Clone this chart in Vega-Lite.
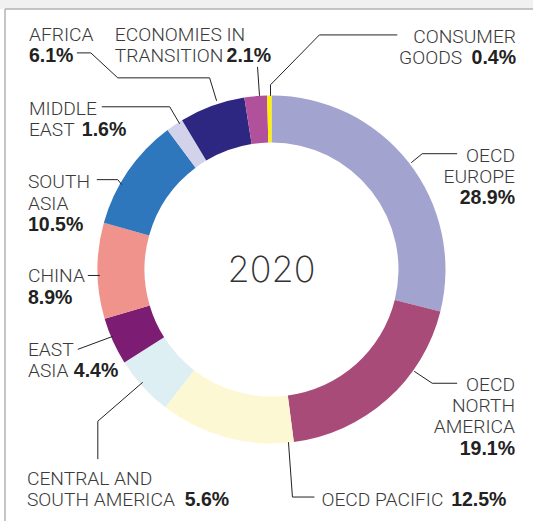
{
  "$schema": "https://vega.github.io/schema/vega-lite/v6.json",
  "width": 534,
  "height": 522,
  "autosize": {"type": "fit", "contains": "padding"},
  "padding": 0,
  "background": "white",
  "view": {"stroke": null},
  "datasets": {
    "segments": [
      {"region": "OECD Europe", "share": 28.9, "idx": 1},
      {"region": "OECD North America", "share": 19.1, "idx": 2},
      {"region": "OECD Pacific", "share": 12.5, "idx": 3},
      {"region": "Central and South America", "share": 5.6, "idx": 4},
      {"region": "East Asia", "share": 4.4, "idx": 5},
      {"region": "China", "share": 8.9, "idx": 6},
      {"region": "South Asia", "share": 10.5, "idx": 7},
      {"region": "Middle East", "share": 1.6, "idx": 8},
      {"region": "Africa", "share": 6.1, "idx": 9},
      {"region": "Economies in Transition", "share": 2.1, "idx": 10},
      {"region": "Consumer Goods", "share": 0.4, "idx": 11}
    ],
    "leaders": [
      {"id": "Africa", "ord": 1, "x": -195, "y": -217},
      {"id": "Africa", "ord": 2, "x": -181, "y": -217},
      {"id": "Africa", "ord": 3, "x": -154, "y": -192},
      {"id": "Africa", "ord": 4, "x": -62, "y": -192},
      {"id": "Africa", "ord": 5, "x": -55, "y": -169},
      {"id": "Econ", "ord": 1, "x": -14, "y": -203},
      {"id": "Econ", "ord": 2, "x": -12, "y": -174},
      {"id": "Consumer", "ord": 1, "x": 126, "y": -235},
      {"id": "Consumer", "ord": 2, "x": 48, "y": -235},
      {"id": "Consumer", "ord": 3, "x": -1, "y": -185},
      {"id": "Consumer", "ord": 4, "x": -1, "y": -174},
      {"id": "Middle", "ord": 1, "x": -170, "y": -163},
      {"id": "Middle", "ord": 2, "x": -102, "y": -163},
      {"id": "Middle", "ord": 3, "x": -92, "y": -146},
      {"id": "SouthAsia", "ord": 1, "x": -175, "y": -90},
      {"id": "SouthAsia", "ord": 2, "x": -154, "y": -90},
      {"id": "SouthAsia", "ord": 3, "x": -150, "y": -85},
      {"id": "China", "ord": 1, "x": -184, "y": 6},
      {"id": "China", "ord": 2, "x": -172, "y": 6},
      {"id": "EastAsia", "ord": 1, "x": -194, "y": 80},
      {"id": "EastAsia", "ord": 2, "x": -159, "y": 67},
      {"id": "CSA", "ord": 1, "x": -174, "y": 190},
      {"id": "CSA", "ord": 2, "x": -174, "y": 152},
      {"id": "CSA", "ord": 3, "x": -129, "y": 113},
      {"id": "Pacific", "ord": 1, "x": 17, "y": 173},
      {"id": "Pacific", "ord": 2, "x": 21, "y": 228},
      {"id": "Pacific", "ord": 3, "x": 43, "y": 228},
      {"id": "NA", "ord": 1, "x": 143, "y": 102},
      {"id": "NA", "ord": 2, "x": 161, "y": 114},
      {"id": "NA", "ord": 3, "x": 186, "y": 114},
      {"id": "Europe", "ord": 1, "x": 140, "y": -107},
      {"id": "Europe", "ord": 2, "x": 151, "y": -116},
      {"id": "Europe", "ord": 3, "x": 186, "y": -116}
    ],
    "namesLeft": [
      {"label": "AFRICA", "x": -243, "y": -229},
      {"label": "ECONOMIES IN", "x": -157, "y": -229},
      {"label": "TRANSITION", "x": -157, "y": -208},
      {"label": "MIDDLE", "x": -243, "y": -155},
      {"label": "EAST", "x": -243, "y": -134},
      {"label": "SOUTH", "x": -244, "y": -82},
      {"label": "ASIA", "x": -244, "y": -60},
      {"label": "CHINA", "x": -244, "y": 13},
      {"label": "EAST", "x": -244, "y": 87},
      {"label": "ASIA", "x": -244, "y": 108},
      {"label": "CENTRAL AND", "x": -245, "y": 216},
      {"label": "SOUTH AMERICA", "x": -245, "y": 237},
      {"label": "OECD PACIFIC", "x": 50, "y": 237}
    ],
    "namesRight": [
      {"label": "CONSUMER", "x": 245, "y": -227},
      {"label": "GOODS", "x": 191, "y": -206},
      {"label": "OECD", "x": 244, "y": -108},
      {"label": "EUROPE", "x": 244, "y": -87},
      {"label": "OECD", "x": 244, "y": 122},
      {"label": "NORTH", "x": 244, "y": 143},
      {"label": "AMERICA", "x": 244, "y": 164}
    ],
    "valuesLeft": [
      {"label": "6.1%", "x": -243, "y": -208},
      {"label": "2.1%", "x": -45, "y": -208},
      {"label": "1.6%", "x": -190, "y": -134},
      {"label": "10.5%", "x": -244, "y": -39},
      {"label": "8.9%", "x": -244, "y": 35},
      {"label": "4.4%", "x": -198, "y": 108},
      {"label": "5.6%", "x": -87, "y": 237},
      {"label": "12.5%", "x": 180, "y": 237}
    ],
    "valuesRight": [
      {"label": "0.4%", "x": 245, "y": -206},
      {"label": "28.9%", "x": 244, "y": -66},
      {"label": "19.1%", "x": 244, "y": 186}
    ],
    "band": [{"x": -272, "x2": 262, "y": -270, "y2": -261}],
    "frame": [
      {"x": -267, "y": -261, "x2": 262, "y2": -261},
      {"x": -267, "y": -261, "x2": -267, "y2": 252}
    ],
    "centre": [{"label": "2020", "x": 0, "y": 13}]
  },
  "layer": [
    {
      "data": {"name": "band"},
      "mark": {"type": "rect", "fill": "#f1f1f1"},
      "encoding": {
        "x": {"field": "x", "type": "quantitative", "scale": {"domain": [-272, 262], "nice": false, "zero": false}, "axis": null},
        "x2": {"field": "x2"},
        "y": {"field": "y", "type": "quantitative", "scale": {"domain": [-270, 252], "nice": false, "zero": false, "reverse": true}, "axis": null},
        "y2": {"field": "y2"}
      }
    },
    {
      "data": {"name": "frame"},
      "mark": {"type": "rule", "stroke": "#b3b3b3", "strokeWidth": 1.5},
      "encoding": {
        "x": {"field": "x", "type": "quantitative", "scale": {"domain": [-272, 262], "nice": false, "zero": false}, "axis": null},
        "x2": {"field": "x2"},
        "y": {"field": "y", "type": "quantitative", "scale": {"domain": [-270, 252], "nice": false, "zero": false, "reverse": true}, "axis": null},
        "y2": {"field": "y2"}
      }
    },
    {
      "data": {"name": "segments"},
      "mark": {"type": "arc", "innerRadius": 127, "outerRadius": 174},
      "encoding": {
        "x": {"datum": 0, "type": "quantitative", "scale": {"domain": [-272, 262], "nice": false, "zero": false}, "axis": null},
        "y": {"datum": 0, "type": "quantitative", "scale": {"domain": [-270, 252], "nice": false, "zero": false, "reverse": true}, "axis": null},
        "theta": {"field": "share", "type": "quantitative", "stack": true},
        "order": {"field": "idx", "type": "quantitative"},
        "color": {
          "field": "region",
          "type": "nominal",
          "legend": null,
          "scale": {
            "domain": ["OECD Europe", "OECD North America", "OECD Pacific", "Central and South America", "East Asia", "China", "South Asia", "Middle East", "Africa", "Economies in Transition", "Consumer Goods"],
            "range": ["#a3a3d0", "#a94b79", "#fdf8d4", "#ddeff3", "#7c1c72", "#f0938d", "#2f77bd", "#d2d2ea", "#2e2782", "#b1519c", "#fff100"]
          }
        }
      }
    },
    {
      "data": {"name": "leaders"},
      "mark": {"type": "line", "stroke": "#222222", "strokeWidth": 1},
      "encoding": {
        "x": {"field": "x", "type": "quantitative", "scale": {"domain": [-272, 262], "nice": false, "zero": false}, "axis": null},
        "y": {"field": "y", "type": "quantitative", "scale": {"domain": [-270, 252], "nice": false, "zero": false, "reverse": true}, "axis": null},
        "detail": {"field": "id", "type": "nominal"},
        "order": {"field": "ord", "type": "quantitative"}
      }
    },
    {
      "data": {"name": "namesLeft"},
      "mark": {"type": "text", "align": "left", "baseline": "alphabetic", "font": "Roboto", "fontWeight": 300, "fontSize": 19.2, "fill": "#3a3a3a"},
      "encoding": {
        "x": {"field": "x", "type": "quantitative", "scale": {"domain": [-272, 262], "nice": false, "zero": false}, "axis": null},
        "y": {"field": "y", "type": "quantitative", "scale": {"domain": [-270, 252], "nice": false, "zero": false, "reverse": true}, "axis": null},
        "text": {"field": "label"}
      }
    },
    {
      "data": {"name": "namesRight"},
      "mark": {"type": "text", "align": "right", "baseline": "alphabetic", "font": "Roboto", "fontWeight": 300, "fontSize": 19.2, "fill": "#3a3a3a"},
      "encoding": {
        "x": {"field": "x", "type": "quantitative", "scale": {"domain": [-272, 262], "nice": false, "zero": false}, "axis": null},
        "y": {"field": "y", "type": "quantitative", "scale": {"domain": [-270, 252], "nice": false, "zero": false, "reverse": true}, "axis": null},
        "text": {"field": "label"}
      }
    },
    {
      "data": {"name": "valuesLeft"},
      "mark": {"type": "text", "align": "left", "baseline": "alphabetic", "font": "Liberation Sans", "fontWeight": "bold", "fontSize": 19.5, "fill": "#222222"},
      "encoding": {
        "x": {"field": "x", "type": "quantitative", "scale": {"domain": [-272, 262], "nice": false, "zero": false}, "axis": null},
        "y": {"field": "y", "type": "quantitative", "scale": {"domain": [-270, 252], "nice": false, "zero": false, "reverse": true}, "axis": null},
        "text": {"field": "label"}
      }
    },
    {
      "data": {"name": "valuesRight"},
      "mark": {"type": "text", "align": "right", "baseline": "alphabetic", "font": "Liberation Sans", "fontWeight": "bold", "fontSize": 19.5, "fill": "#222222"},
      "encoding": {
        "x": {"field": "x", "type": "quantitative", "scale": {"domain": [-272, 262], "nice": false, "zero": false}, "axis": null},
        "y": {"field": "y", "type": "quantitative", "scale": {"domain": [-270, 252], "nice": false, "zero": false, "reverse": true}, "axis": null},
        "text": {"field": "label"}
      }
    },
    {
      "data": {"name": "centre"},
      "mark": {"type": "text", "align": "center", "baseline": "alphabetic", "font": "Inter", "fontWeight": 200, "fontSize": 36, "fill": "#333333"},
      "encoding": {
        "x": {"field": "x", "type": "quantitative", "scale": {"domain": [-272, 262], "nice": false, "zero": false}, "axis": null},
        "y": {"field": "y", "type": "quantitative", "scale": {"domain": [-270, 252], "nice": false, "zero": false, "reverse": true}, "axis": null},
        "text": {"field": "label"}
      }
    }
  ]
}
